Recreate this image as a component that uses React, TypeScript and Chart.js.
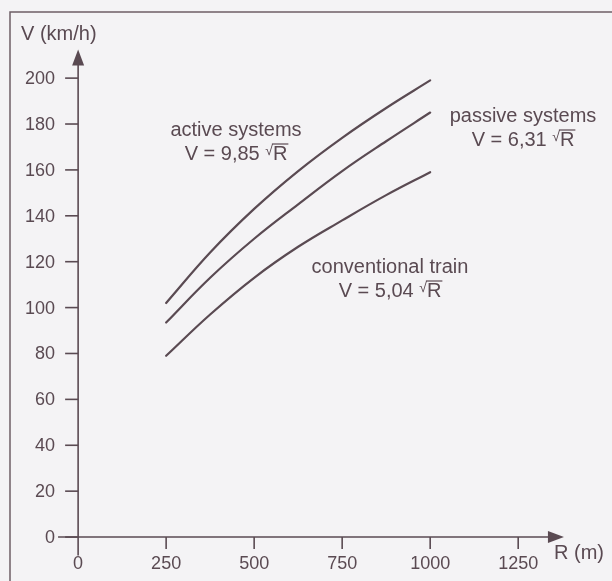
import React, { useEffect, useRef } from "react";
import { Chart, registerables } from "chart.js";

Chart.register(...registerables);

const radiusR = [250, 375, 500, 625, 750, 875, 1000];
const activeV = [102, 124, 143, 159.5, 174, 187, 199];
const passiveV = [93.5, 113, 130, 145, 159.5, 172.5, 185];
const conventionalV = [79, 97, 113, 126.5, 138, 149, 159];

const yTicks = [0, 20, 40, 60, 80, 100, 120, 140, 160, 180, 200];
const xTicks = [0, 250, 500, 750, 1000, 1250];

const yTitle = "V (km/h)";
const xTitle = "R (m)";

const curveNames = ["active systems", "passive systems", "conventional train"];
const curveFormulas = ["V = 9,85 ", "V = 6,31 ", "V = 5,04 "];

const INK = "#5a4a52";
const FONT = "'Liberation Sans', Arial, Helvetica, sans-serif";

const decorPlugin = {
  id: "decor",
  beforeDraw(chart: any) {
    const ctx = chart.ctx;
    ctx.save();
    ctx.fillStyle = "#f4f3f5";
    ctx.fillRect(0, 0, chart.width, chart.height);
    ctx.strokeStyle = "#6e5f66";
    ctx.lineWidth = 1.5;
    ctx.beginPath();
    ctx.moveTo(10, chart.height + 5);
    ctx.lineTo(10, 12);
    ctx.lineTo(chart.width + 5, 12);
    ctx.stroke();
    ctx.restore();
  },
  afterDatasetsDraw(chart: any) {
    const ctx = chart.ctx;
    const xs = chart.scales.x;
    const ys = chart.scales.y;
    const x0 = xs.getPixelForValue(0);
    const y0 = ys.getPixelForValue(0);
    ctx.save();
    ctx.strokeStyle = INK;
    ctx.fillStyle = INK;
    ctx.lineWidth = 1.6;

    // y axis
    const yTop = ys.getPixelForValue(208);
    ctx.beginPath();
    ctx.moveTo(x0, ys.getPixelForValue(-8));
    ctx.lineTo(x0, yTop);
    ctx.stroke();
    const yTip = ys.getPixelForValue(212.5);
    ctx.beginPath();
    ctx.moveTo(x0, yTip);
    ctx.lineTo(x0 - 6, yTip + 16);
    ctx.lineTo(x0 + 6, yTip + 16);
    ctx.closePath();
    ctx.fill();

    // x axis
    const xRight = xs.getPixelForValue(1350);
    ctx.beginPath();
    ctx.moveTo(xs.getPixelForValue(-57), y0);
    ctx.lineTo(xRight, y0);
    ctx.stroke();
    const xTip = xs.getPixelForValue(1380);
    ctx.beginPath();
    ctx.moveTo(xTip, y0);
    ctx.lineTo(xTip - 16, y0 - 6);
    ctx.lineTo(xTip - 16, y0 + 6);
    ctx.closePath();
    ctx.fill();

    // y ticks
    ctx.font = `18px ${FONT}`;
    ctx.textAlign = "right";
    ctx.textBaseline = "middle";
    yTicks.forEach((v) => {
      const py = ys.getPixelForValue(v);
      ctx.beginPath();
      ctx.moveTo(x0 - 13, py);
      ctx.lineTo(x0, py);
      ctx.stroke();
      ctx.fillText(String(v), x0 - 23, py + 1);
    });

    // x ticks
    ctx.textAlign = "center";
    xTicks.forEach((v) => {
      const px = xs.getPixelForValue(v);
      if (v !== 0) {
        ctx.beginPath();
        ctx.moveTo(px, y0);
        ctx.lineTo(px, y0 + 12);
        ctx.stroke();
      }
      ctx.fillText(String(v), px, y0 + 27);
    });

    // axis titles
    ctx.font = `20px ${FONT}`;
    ctx.textAlign = "left";
    ctx.fillText(yTitle, 21, 34);
    ctx.fillText(xTitle, 554, 553);

    // annotations
    const drawFormula = (prefix: string, cx: number, cy: number) => {
      ctx.font = `20px ${FONT}`;
      const wPre = ctx.measureText(prefix).width;
      ctx.font = `14px ${FONT}`;
      const wSq = ctx.measureText("\u221A").width;
      ctx.font = `20px ${FONT}`;
      const wR = ctx.measureText("R").width;
      const total = wPre + wSq + wR;
      let x = cx - total / 2;
      ctx.textAlign = "left";
      ctx.textBaseline = "middle";
      ctx.fillText(prefix, x, cy);
      x += wPre;
      ctx.font = `14px ${FONT}`;
      ctx.fillText("\u221A", x, cy - 3);
      x += wSq;
      ctx.font = `20px ${FONT}`;
      ctx.fillText("R", x, cy);
      ctx.lineWidth = 1.2;
      ctx.beginPath();
      ctx.moveTo(x - 1, cy - 10);
      ctx.lineTo(x + wR + 1, cy - 10);
      ctx.stroke();
    };
    const spots = [
      [236, 130],
      [523, 116],
      [390, 267],
    ];
    spots.forEach(([cx, cy], i) => {
      ctx.font = `20px ${FONT}`;
      ctx.textAlign = "center";
      ctx.textBaseline = "middle";
      ctx.fillText(curveNames[i], cx, cy);
      drawFormula(curveFormulas[i], cx, cy + 24);
    });
    ctx.restore();
  },
};

export default function App() {
  const ref = useRef<HTMLCanvasElement | null>(null);
  useEffect(() => {
    document.body.style.margin = "0";
    if (!ref.current) return;
    const mk = (vals: number[]) => radiusR.map((r, i) => ({ x: r, y: vals[i] }));
    const ds = (label: string, vals: number[]) => ({
      label,
      data: mk(vals),
      borderColor: INK,
      borderWidth: 2.2,
      pointRadius: 0,
      fill: false,
      tension: 0.4,
      borderCapStyle: "round" as const,
    });
    const chart = new Chart(ref.current, {
      type: "line",
      data: {
        datasets: [
          ds(curveNames[0], activeV),
          ds(curveNames[1], passiveV),
          ds(curveNames[2], conventionalV),
        ],
      },
      options: {
        animation: false,
        responsive: false,
        maintainAspectRatio: false,
        layout: { padding: { left: 57, right: 41, top: 46, bottom: 21 } },
        plugins: { legend: { display: false }, tooltip: { enabled: false } },
        scales: {
          x: { type: "linear", min: -60, max: 1400, display: false },
          y: { type: "linear", min: -10, max: 214, display: false },
        },
      },
      plugins: [decorPlugin],
    });
    return () => chart.destroy();
  }, []);
  return (
    <div style={{ width: 612, height: 581 }}>
      <canvas ref={ref} width={612} height={581} style={{ display: "block" }} />
    </div>
  );
}
